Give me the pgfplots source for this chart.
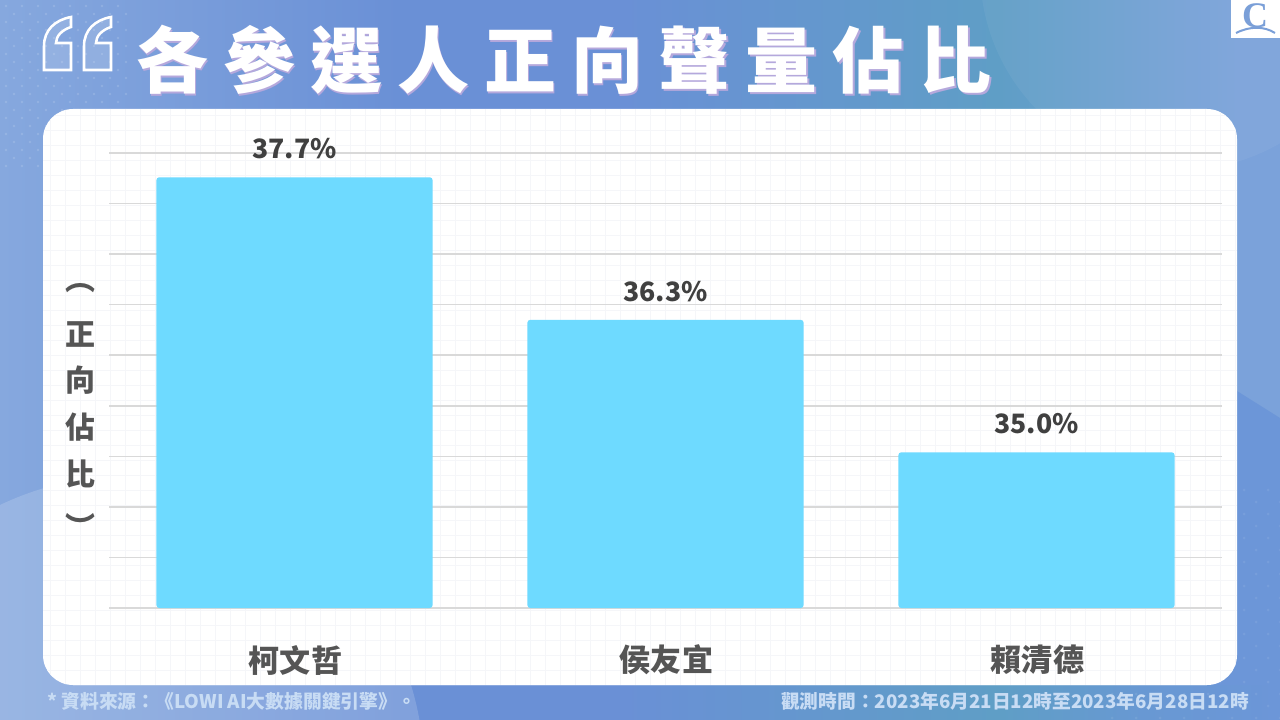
\documentclass[border=0pt]{standalone}
\usepackage{pgfplots}
\pgfplotsset{compat=1.18}
\usepackage{fontspec}
\setmainfont{Noto Sans CJK TC}
\newfontfamily\titlefont[LetterSpace=20.9]{Noto Sans CJK TC Black}
\definecolor{barblue}{HTML}{6EDAFF}
\definecolor{gridgrey}{HTML}{D9D9D9}
\definecolor{panelgrid}{HTML}{F5F6F9}
\definecolor{labeldark}{HTML}{404040}
\definecolor{catgrey}{HTML}{555555}
\definecolor{foot}{HTML}{C8DCF4}
\definecolor{logoblue}{HTML}{7A9FD8}
\definecolor{shadowc}{HTML}{B5A8DC}
\definecolor{darkcorner}{HTML}{6C96D8}
\definecolor{bga}{HTML}{86A8DE}
\definecolor{bgb}{HTML}{6A90D6}
\definecolor{bgd}{HTML}{5F9EC6}
\definecolor{bge}{HTML}{7BA2DA}
\pgfdeclarehorizontalshading{bgshade}{100bp}{
 color(0bp)=(bga); color(25bp)=(bga); color(40.6bp)=(bgb); color(49.2bp)=(bgb); color(64bp)=(bgd); color(73.4bp)=(bge); color(100bp)=(bge)}
\begin{document}
\begin{tikzpicture}
\path[use as bounding box] (0pt,0pt) rectangle (960pt,-540pt);
\begin{scope}[x=0.75pt,y=-0.75pt]
\begin{scope}
\clip (0,0) rectangle (1280,720);
\shade[shading=bgshade] (0,0) rectangle (1280,720);
% decorative shapes
\fill[white,opacity=0.16] (128,772) circle (296);
\fill[white,opacity=0.05] (1180,-30) circle (200);
\fill[darkcorner] (1280,418) -- (1237,391) -- (1200,370) -- (1200,720) -- (1280,720) -- cycle;
\shade[left color=bgd,right color=darkcorner,middle color=darkcorner!70!bgd] (1000,685) rectangle (1280,720);
% dots
\foreach \i in {0,...,7}{\foreach \j in {0,...,20}{
  \fill[white,opacity=0.14] ({6+\i*16+mod(\j,2)*8},{6+\j*8}) circle (1.3);}}
\foreach \i in {0,...,7}{\foreach \j in {0,...,19}{
  \fill[white,opacity=0.08] ({1100+\i*24+mod(\j,2)*12},{490+\j*12}) circle (1.5);}}
% panel
\fill[white,rounded corners=22.5pt] (43,109) rectangle (1237,685);
\begin{scope}
\clip[rounded corners=22.5pt] (43,109) rectangle (1237,685);
\foreach \gx in {50,65,...,1235}{\draw[panelgrid,line width=0.4pt] (\gx,109) -- (\gx,685);}
\foreach \gy in {115,130,...,685}{\draw[panelgrid,line width=0.4pt] (43,\gy) -- (1237,\gy);}
\end{scope}
\fill[white] (1231,0) rectangle (1280,38);
\draw[logoblue,line width=1.5pt] (1236,33) .. controls (1250,26) and (1264,26) .. (1275,33);
\node[logoblue,font={\fontspec{Liberation Serif}\bfseries\fontsize{27}{27}\selectfont},anchor=center] at (1255,16) {C};
% quote marks
\foreach \dx in {0,40}{
\draw[white,line width=1.9pt,fill=white,fill opacity=0.14,line join=miter]
 (71+\dx,17) .. controls (55+\dx,20) and (44+\dx,30) .. (44+\dx,46) -- (44+\dx,70) -- (71+\dx,70) -- (71+\dx,43) -- (56+\dx,43)
 .. controls (56+\dx,36) and (62+\dx,30) .. (71+\dx,27) -- cycle;}
\end{scope}
% title
\node[anchor=center,text=shadowc,font={\titlefont\fontsize{54}{54}\selectfont}] at (565.5,61.5) {各參選人正向聲量佔比};
\node[anchor=center,text=white,font={\titlefont\fontsize{54}{54}\selectfont}] at (564,60) {各參選人正向聲量佔比};
% footer
\node[anchor=west,text=foot,font={\bfseries\fontsize{14.1}{14.1}\selectfont},inner sep=0pt] at (47,701) {* 資料來源：《LOWI AI大數據關鍵引擎》。};
\node[anchor=east,text=foot,font={\bfseries\fontsize{14.05}{14.05}\selectfont},inner sep=0pt] at (1249,701) {觀測時間：2023年6月21日12時至2023年6月28日12時};
\end{scope}
\begin{axis}[
  at={(81.75pt,-456pt)},anchor=south west,
  scale only axis,width=834.75pt,height=341.25pt,
  xmin=-0.5,xmax=2.5,ymin=33.5,ymax=38,
  ytick={33.5,34,...,38},
  xtick={0,1,2},xticklabels={柯文哲,侯友宜,賴清德},
  yticklabels={},
  ymajorgrids,
  grid style={gridgrey,line width=1.1pt},
  axis line style={draw=none},
  tick style={draw=none},
  xticklabel style={font={\bfseries\fontsize{23.3}{23.3}\selectfont},text=catgrey,yshift=-20pt,xshift=0.75pt},
  ylabel={︵\\[6pt]正\\向\\佔\\比\\[5.25pt]︶},
  ylabel style={rotate=-90,align=center,anchor=center,at={(axis description cs:-0.0252,0.433)},
    font={\bfseries\fontsize{22.5}{35}\selectfont},text=catgrey},
  ybar,bar width=207.2pt,
  point meta=explicit symbolic,
  nodes near coords={\pgfplotspointmeta\%},
  every node near coord/.style={anchor=center,yshift=21.5pt,font={\bfseries\fontsize{20}{20}\selectfont},text=labeldark},
  clip mode=individual,
]
\addplot[fill=barblue,draw=none,rounded corners=2.2pt] coordinates {(0,37.76) [37.7] (1,36.35) [36.3] (2,35.04) [35.0]};
\end{axis}
\end{tikzpicture}
\end{document}
